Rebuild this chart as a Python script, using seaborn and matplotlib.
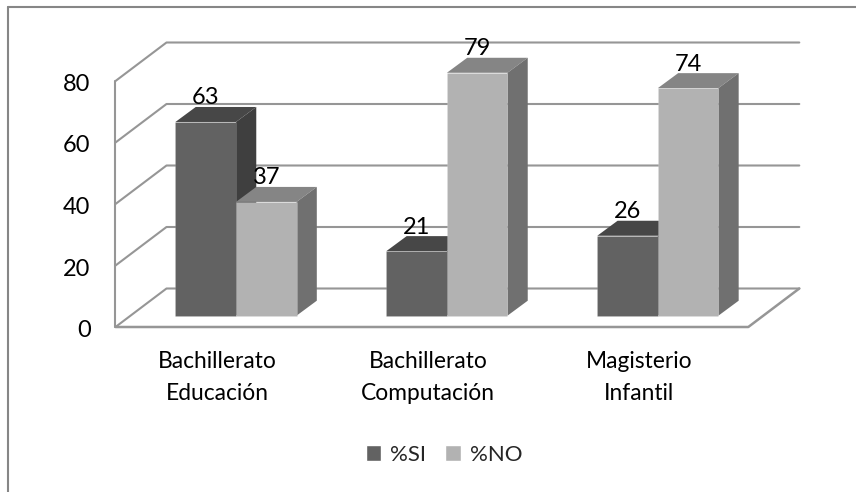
import matplotlib

matplotlib.use("Agg")
import matplotlib.pyplot as plt
import pandas as pd
import seaborn as sns
from matplotlib.lines import Line2D
from matplotlib.patches import Polygon
from matplotlib.transforms import Affine2D

categories = ["Bachillerato\nEducación", "Bachillerato\nComputación", "Magisterio\nInfantil"]
si_values = [63, 21, 26]
no_values = [37, 79, 74]
y_ticks = [0, 20, 40, 60, 80]
series_names = ["%SI", "%NO"]

WIDTH, HEIGHT = 856, 492
LEFT, RIGHT, TOP, BOTTOM = 115.5, 748.3, 81, 327
X_UNIT = (RIGHT - LEFT) / 3
Y_UNIT = (BOTTOM - TOP) / 80

# fake 3D: everything below is a pixel shift expressed in data units
WALL_DX, WALL_DY = 51 / X_UNIT, 38.5 / Y_UNIT
BAR_DX, BAR_DY = 20.3 / X_UNIT, 15 / Y_UNIT
BAR_SHIFT_X, BAR_SHIFT_Y = 15 / X_UNIT, 11.3 / Y_UNIT

FRONT = {"%SI": "#626262", "%NO": "#b2b2b2"}
ROOF = {"%SI": "#474747", "%NO": "#858585"}
SIDE = {"%SI": "#3f3f3f", "%NO": "#707070"}
GRID = "#969696"
FRAME = "#868686"

sns.set_theme(style="white")
plt.rcParams["font.family"] = ["Lato", "DejaVu Sans"]

data = pd.DataFrame(
    {
        "categoria": categories * 2,
        "valor": si_values + no_values,
        "serie": [series_names[0]] * 3 + [series_names[1]] * 3,
    }
)

fig = plt.figure(figsize=(WIDTH / 100, HEIGHT / 100), dpi=100)
ax = fig.add_axes(
    [LEFT / WIDTH, 1 - BOTTOM / HEIGHT, (RIGHT - LEFT) / WIDTH, (BOTTOM - TOP) / HEIGHT]
)
ax.patch.set_visible(False)

sns.barplot(
    data=data,
    x="categoria",
    y="valor",
    hue="serie",
    palette=FRONT,
    saturation=1,
    width=0.574,
    gap=0,
    ax=ax,
    zorder=5,
)
handles, labels = ax.get_legend_handles_labels()

ax.set_xlim(-0.5, 2.5)
ax.set_ylim(0, 80)
sns.despine(ax=ax, left=True, bottom=True)
ax.set_xlabel("")
ax.set_ylabel("")

# walls
for tick in y_ticks:
    ax.plot(
        [-0.5, -0.5 + WALL_DX, 2.5 + WALL_DX],
        [tick, tick + WALL_DY, tick + WALL_DY],
        color=GRID,
        lw=1.5,
        clip_on=False,
        zorder=1,
    )
ax.plot([-0.5, -0.5], [0, 80], color=GRID, lw=1.5, clip_on=False, zorder=1)
ax.plot(
    [-0.5, 2.5, 2.5 + WALL_DX], [0, 0, WALL_DY], color=GRID, lw=1.8, clip_on=False, zorder=1
)

# bars, left to right so each one covers the side of the previous
order = 5
for container, name in zip(ax.containers, series_names):
    for patch in container:
        patch.set_x(patch.get_x() + BAR_SHIFT_X)
        patch.set_y(BAR_SHIFT_Y)
        patch.set_clip_on(False)

bars = []
for index in range(len(categories)):
    for container, name in zip(ax.containers, series_names):
        bars.append((container[index], name))

for patch, name in bars:
    x0 = patch.get_x()
    x1 = x0 + patch.get_width()
    y0 = patch.get_y()
    y1 = y0 + patch.get_height()
    roof = [(x0, y1), (x1, y1), (x1 + BAR_DX, y1 + BAR_DY), (x0 + BAR_DX, y1 + BAR_DY)]
    side = [(x1, y0), (x1 + BAR_DX, y0 + BAR_DY), (x1 + BAR_DX, y1 + BAR_DY), (x1, y1)]
    ax.add_patch(Polygon(roof, fc=ROOF[name], ec="none", clip_on=False, zorder=order))
    ax.add_patch(Polygon(side, fc=SIDE[name], ec="none", clip_on=False, zorder=order))
    patch.set_zorder(order + 1)
    patch.set_edgecolor((1, 1, 1, 0.12))
    patch.set_linewidth(0.6)
    order += 2
    ax.text(
        (x0 + x1) / 2,
        y1 + 24 / Y_UNIT,
        f"{patch.get_height():.0f}",
        ha="center",
        va="center",
        fontsize=17,
        color="black",
        zorder=50,
    )

ax.set_yticks(y_ticks)
ax.set_xticks([i - 4 / X_UNIT for i in range(3)], categories)
ax.tick_params(axis="y", length=0, pad=18, labelsize=17, labelcolor="black")
ax.tick_params(axis="x", length=0, pad=17.5, labelsize=16.4, labelcolor="black")
for label in ax.get_xticklabels():
    label.set_linespacing(1.65)
for label in ax.get_yticklabels():
    label.set_transform(label.get_transform() + Affine2D().translate(0, -1.5))

ax.legend(
    handles,
    labels,
    loc="center",
    bbox_to_anchor=(444 / WIDTH, 1 - 455 / HEIGHT),
    bbox_transform=fig.transFigure,
    ncol=2,
    frameon=False,
    fontsize=16,
    handlelength=0.7,
    handleheight=0.7,
    handletextpad=0.4,
    columnspacing=0.85,
    borderpad=0,
)

# chart frame, only top and left survive in the screenshot
fig.add_artist(Line2D([8 / WIDTH, 8 / WIDTH], [0, 1 - 6.5 / HEIGHT], color=FRAME, lw=1.5))
fig.add_artist(Line2D([8 / WIDTH, 1], [1 - 6.5 / HEIGHT, 1 - 6.5 / HEIGHT], color=FRAME, lw=1.5))

fig.savefig("out.png", dpi=100)
